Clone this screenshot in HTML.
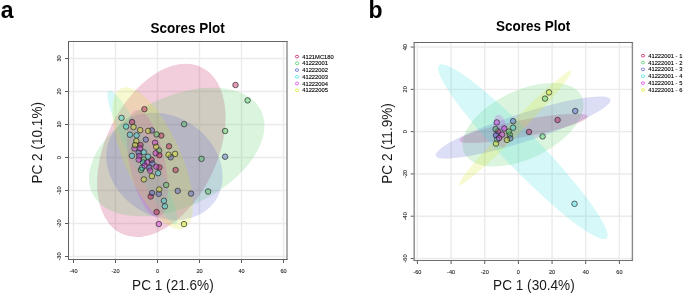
<!DOCTYPE html>
<html><head><meta charset="utf-8"><style>
html,body{margin:0;padding:0;background:#fff;}
svg{display:block;will-change:transform;}
text{font-family:"Liberation Sans",sans-serif;}
.tk{font-size:5.6px;fill:#222;stroke:#222;stroke-width:0.1px;}
.lg{font-size:5.8px;fill:#000;stroke:#000;stroke-width:0.12px;}
.pl{font-size:23px;font-weight:bold;fill:#000;}
.tt{font-size:13.5px;font-weight:bold;fill:#000;}
.al{font-size:13.6px;fill:#1a1a1a;}
</style></head><body>
<svg width="685" height="294" viewBox="0 0 685 294">
<defs>
<clipPath id="ca"><rect x="69" y="42" width="218" height="217"/></clipPath>
<clipPath id="cb"><rect x="415" y="43" width="217" height="217"/></clipPath>
</defs>
<line x1="73.5" y1="42" x2="73.5" y2="259" stroke="#ebebeb" stroke-width="1.4"/>
<line x1="115.5" y1="42" x2="115.5" y2="259" stroke="#ebebeb" stroke-width="1.4"/>
<line x1="157.5" y1="42" x2="157.5" y2="259" stroke="#ebebeb" stroke-width="1.4"/>
<line x1="199.5" y1="42" x2="199.5" y2="259" stroke="#ebebeb" stroke-width="1.4"/>
<line x1="241.5" y1="42" x2="241.5" y2="259" stroke="#ebebeb" stroke-width="1.4"/>
<line x1="283.5" y1="42" x2="283.5" y2="259" stroke="#ebebeb" stroke-width="1.4"/>
<line x1="69" y1="256.5" x2="287" y2="256.5" stroke="#ebebeb" stroke-width="1.4"/>
<line x1="69" y1="223.5" x2="287" y2="223.5" stroke="#ebebeb" stroke-width="1.4"/>
<line x1="69" y1="190.5" x2="287" y2="190.5" stroke="#ebebeb" stroke-width="1.4"/>
<line x1="69" y1="157.5" x2="287" y2="157.5" stroke="#ebebeb" stroke-width="1.4"/>
<line x1="69" y1="124.5" x2="287" y2="124.5" stroke="#ebebeb" stroke-width="1.4"/>
<line x1="69" y1="91.5" x2="287" y2="91.5" stroke="#ebebeb" stroke-width="1.4"/>
<line x1="69" y1="58.5" x2="287" y2="58.5" stroke="#ebebeb" stroke-width="1.4"/>
<line x1="417.4" y1="43" x2="417.4" y2="260" stroke="#ebebeb" stroke-width="1.4"/>
<line x1="451.06666666666666" y1="43" x2="451.06666666666666" y2="260" stroke="#ebebeb" stroke-width="1.4"/>
<line x1="484.7333333333333" y1="43" x2="484.7333333333333" y2="260" stroke="#ebebeb" stroke-width="1.4"/>
<line x1="518.4" y1="43" x2="518.4" y2="260" stroke="#ebebeb" stroke-width="1.4"/>
<line x1="552.0666666666666" y1="43" x2="552.0666666666666" y2="260" stroke="#ebebeb" stroke-width="1.4"/>
<line x1="585.7333333333333" y1="43" x2="585.7333333333333" y2="260" stroke="#ebebeb" stroke-width="1.4"/>
<line x1="619.4" y1="43" x2="619.4" y2="260" stroke="#ebebeb" stroke-width="1.4"/>
<line x1="415" y1="258.52" x2="632" y2="258.52" stroke="#ebebeb" stroke-width="1.4"/>
<line x1="415" y1="216.23000000000002" x2="632" y2="216.23000000000002" stroke="#ebebeb" stroke-width="1.4"/>
<line x1="415" y1="173.94" x2="632" y2="173.94" stroke="#ebebeb" stroke-width="1.4"/>
<line x1="415" y1="131.65" x2="632" y2="131.65" stroke="#ebebeb" stroke-width="1.4"/>
<line x1="415" y1="89.36000000000001" x2="632" y2="89.36000000000001" stroke="#ebebeb" stroke-width="1.4"/>
<line x1="415" y1="47.07000000000001" x2="632" y2="47.07000000000001" stroke="#ebebeb" stroke-width="1.4"/>
<g><g clip-path="url(#ca)"><ellipse cx="161.33" cy="150.35" rx="92.26" ry="55.75" transform="rotate(115.73 161.33 150.35)" fill="rgb(190,5,80)" fill-opacity="0.2"/>
<ellipse cx="176.70" cy="152.00" rx="94.00" ry="54.80" transform="rotate(-26.20 176.70 152.00)" fill="rgb(70,200,90)" fill-opacity="0.2"/>
<ellipse cx="164.40" cy="166.40" rx="61.40" ry="50.00" transform="rotate(33.70 164.40 166.40)" fill="rgb(80,90,205)" fill-opacity="0.2"/>
<ellipse cx="142.50" cy="157.49" rx="74.64" ry="10.95" transform="rotate(63.22 142.50 157.49)" fill="rgb(50,220,225)" fill-opacity="0.2"/>
<ellipse cx="147.32" cy="163.45" rx="54.56" ry="17.77" transform="rotate(78.26 147.32 163.45)" fill="rgb(215,40,225)" fill-opacity="0.2"/>
<ellipse cx="152.68" cy="158.23" rx="76.59" ry="28.10" transform="rotate(66.03 152.68 158.23)" fill="rgb(215,228,25)" fill-opacity="0.2"/></g></g>
<g><g clip-path="url(#cb)"><ellipse cx="523.60" cy="128.40" rx="65.20" ry="8.50" transform="rotate(-10.60 523.60 128.40)" fill="rgb(190,5,80)" fill-opacity="0.2"/>
<ellipse cx="523.00" cy="124.70" rx="65.20" ry="34.10" transform="rotate(-25.80 523.00 124.70)" fill="rgb(70,200,90)" fill-opacity="0.2"/>
<ellipse cx="523.10" cy="127.60" rx="91.70" ry="14.00" transform="rotate(-17.80 523.10 127.60)" fill="rgb(80,90,205)" fill-opacity="0.2"/>
<ellipse cx="522.80" cy="151.70" rx="120.40" ry="18.00" transform="rotate(45.90 522.80 151.70)" fill="rgb(50,220,225)" fill-opacity="0.2"/>
<ellipse cx="500.40" cy="131.10" rx="16.40" ry="7.00" transform="rotate(82.00 500.40 131.10)" fill="rgb(215,40,225)" fill-opacity="0.2"/>
<ellipse cx="515.30" cy="127.90" rx="79.70" ry="6.50" transform="rotate(-45.50 515.30 127.90)" fill="rgb(215,228,25)" fill-opacity="0.2"/></g></g>
<g clip-path="url(#ca)"><circle cx="144.4" cy="109.2" r="2.75" fill="rgb(190,5,80)" fill-opacity="0.4" stroke="#2a2a2a" stroke-width="0.7"/>
<circle cx="132.1" cy="122.1" r="2.75" fill="rgb(190,5,80)" fill-opacity="0.4" stroke="#2a2a2a" stroke-width="0.7"/>
<circle cx="140.5" cy="145.0" r="2.75" fill="rgb(190,5,80)" fill-opacity="0.4" stroke="#2a2a2a" stroke-width="0.7"/>
<circle cx="161.3" cy="135.6" r="2.75" fill="rgb(190,5,80)" fill-opacity="0.4" stroke="#2a2a2a" stroke-width="0.7"/>
<circle cx="169.0" cy="146.3" r="2.75" fill="rgb(190,5,80)" fill-opacity="0.4" stroke="#2a2a2a" stroke-width="0.7"/>
<circle cx="159.3" cy="155.2" r="2.75" fill="rgb(190,5,80)" fill-opacity="0.4" stroke="#2a2a2a" stroke-width="0.7"/>
<circle cx="151.6" cy="159.8" r="2.75" fill="rgb(190,5,80)" fill-opacity="0.4" stroke="#2a2a2a" stroke-width="0.7"/>
<circle cx="159.4" cy="167.4" r="2.75" fill="rgb(190,5,80)" fill-opacity="0.4" stroke="#2a2a2a" stroke-width="0.7"/>
<circle cx="175.6" cy="170.0" r="2.75" fill="rgb(190,5,80)" fill-opacity="0.4" stroke="#2a2a2a" stroke-width="0.7"/>
<circle cx="150.7" cy="196.5" r="2.75" fill="rgb(190,5,80)" fill-opacity="0.4" stroke="#2a2a2a" stroke-width="0.7"/>
<circle cx="156.6" cy="212.1" r="2.75" fill="rgb(190,5,80)" fill-opacity="0.4" stroke="#2a2a2a" stroke-width="0.7"/>
<circle cx="235.5" cy="85.0" r="2.75" fill="rgb(190,5,80)" fill-opacity="0.4" stroke="#2a2a2a" stroke-width="0.7"/>
<circle cx="156.6" cy="134.4" r="2.75" fill="rgb(70,200,90)" fill-opacity="0.4" stroke="#2a2a2a" stroke-width="0.7"/>
<circle cx="184.1" cy="124.2" r="2.75" fill="rgb(70,200,90)" fill-opacity="0.4" stroke="#2a2a2a" stroke-width="0.7"/>
<circle cx="159.0" cy="150.5" r="2.75" fill="rgb(70,200,90)" fill-opacity="0.4" stroke="#2a2a2a" stroke-width="0.7"/>
<circle cx="143.8" cy="159.5" r="2.75" fill="rgb(70,200,90)" fill-opacity="0.4" stroke="#2a2a2a" stroke-width="0.7"/>
<circle cx="141.0" cy="170.0" r="2.75" fill="rgb(70,200,90)" fill-opacity="0.4" stroke="#2a2a2a" stroke-width="0.7"/>
<circle cx="166.2" cy="185.0" r="2.75" fill="rgb(70,200,90)" fill-opacity="0.4" stroke="#2a2a2a" stroke-width="0.7"/>
<circle cx="225.1" cy="131.0" r="2.75" fill="rgb(70,200,90)" fill-opacity="0.4" stroke="#2a2a2a" stroke-width="0.7"/>
<circle cx="247.6" cy="100.4" r="2.75" fill="rgb(70,200,90)" fill-opacity="0.4" stroke="#2a2a2a" stroke-width="0.7"/>
<circle cx="201.5" cy="158.8" r="2.75" fill="rgb(70,200,90)" fill-opacity="0.4" stroke="#2a2a2a" stroke-width="0.7"/>
<circle cx="208.1" cy="191.5" r="2.75" fill="rgb(70,200,90)" fill-opacity="0.4" stroke="#2a2a2a" stroke-width="0.7"/>
<circle cx="151.8" cy="130.4" r="2.75" fill="rgb(80,90,205)" fill-opacity="0.4" stroke="#2a2a2a" stroke-width="0.7"/>
<circle cx="145.8" cy="139.6" r="2.75" fill="rgb(80,90,205)" fill-opacity="0.4" stroke="#2a2a2a" stroke-width="0.7"/>
<circle cx="138.7" cy="152.6" r="2.75" fill="rgb(80,90,205)" fill-opacity="0.4" stroke="#2a2a2a" stroke-width="0.7"/>
<circle cx="152.4" cy="163.6" r="2.75" fill="rgb(80,90,205)" fill-opacity="0.4" stroke="#2a2a2a" stroke-width="0.7"/>
<circle cx="149.2" cy="167.7" r="2.75" fill="rgb(80,90,205)" fill-opacity="0.4" stroke="#2a2a2a" stroke-width="0.7"/>
<circle cx="170.6" cy="157.3" r="2.75" fill="rgb(80,90,205)" fill-opacity="0.4" stroke="#2a2a2a" stroke-width="0.7"/>
<circle cx="152.0" cy="193.0" r="2.75" fill="rgb(80,90,205)" fill-opacity="0.4" stroke="#2a2a2a" stroke-width="0.7"/>
<circle cx="158.8" cy="193.8" r="2.75" fill="rgb(80,90,205)" fill-opacity="0.4" stroke="#2a2a2a" stroke-width="0.7"/>
<circle cx="177.7" cy="190.9" r="2.75" fill="rgb(80,90,205)" fill-opacity="0.4" stroke="#2a2a2a" stroke-width="0.7"/>
<circle cx="191.0" cy="193.6" r="2.75" fill="rgb(80,90,205)" fill-opacity="0.4" stroke="#2a2a2a" stroke-width="0.7"/>
<circle cx="225.1" cy="156.7" r="2.75" fill="rgb(80,90,205)" fill-opacity="0.4" stroke="#2a2a2a" stroke-width="0.7"/>
<circle cx="121.5" cy="117.9" r="2.75" fill="rgb(50,220,225)" fill-opacity="0.4" stroke="#2a2a2a" stroke-width="0.7"/>
<circle cx="126.1" cy="126.6" r="2.75" fill="rgb(50,220,225)" fill-opacity="0.4" stroke="#2a2a2a" stroke-width="0.7"/>
<circle cx="129.9" cy="134.7" r="2.75" fill="rgb(50,220,225)" fill-opacity="0.4" stroke="#2a2a2a" stroke-width="0.7"/>
<circle cx="136.6" cy="135.4" r="2.75" fill="rgb(50,220,225)" fill-opacity="0.4" stroke="#2a2a2a" stroke-width="0.7"/>
<circle cx="131.9" cy="155.8" r="2.75" fill="rgb(50,220,225)" fill-opacity="0.4" stroke="#2a2a2a" stroke-width="0.7"/>
<circle cx="143.8" cy="152.2" r="2.75" fill="rgb(50,220,225)" fill-opacity="0.4" stroke="#2a2a2a" stroke-width="0.7"/>
<circle cx="148.1" cy="156.7" r="2.75" fill="rgb(50,220,225)" fill-opacity="0.4" stroke="#2a2a2a" stroke-width="0.7"/>
<circle cx="143.1" cy="162.5" r="2.75" fill="rgb(50,220,225)" fill-opacity="0.4" stroke="#2a2a2a" stroke-width="0.7"/>
<circle cx="142.1" cy="167.8" r="2.75" fill="rgb(50,220,225)" fill-opacity="0.4" stroke="#2a2a2a" stroke-width="0.7"/>
<circle cx="158.1" cy="173.2" r="2.75" fill="rgb(50,220,225)" fill-opacity="0.4" stroke="#2a2a2a" stroke-width="0.7"/>
<circle cx="163.9" cy="200.8" r="2.75" fill="rgb(50,220,225)" fill-opacity="0.4" stroke="#2a2a2a" stroke-width="0.7"/>
<circle cx="164.9" cy="206.3" r="2.75" fill="rgb(50,220,225)" fill-opacity="0.4" stroke="#2a2a2a" stroke-width="0.7"/>
<circle cx="134.5" cy="148.6" r="2.75" fill="rgb(215,40,225)" fill-opacity="0.4" stroke="#2a2a2a" stroke-width="0.7"/>
<circle cx="140.2" cy="148.3" r="2.75" fill="rgb(215,40,225)" fill-opacity="0.4" stroke="#2a2a2a" stroke-width="0.7"/>
<circle cx="155.0" cy="142.8" r="2.75" fill="rgb(215,40,225)" fill-opacity="0.4" stroke="#2a2a2a" stroke-width="0.7"/>
<circle cx="155.7" cy="153.2" r="2.75" fill="rgb(215,40,225)" fill-opacity="0.4" stroke="#2a2a2a" stroke-width="0.7"/>
<circle cx="139.3" cy="156.1" r="2.75" fill="rgb(215,40,225)" fill-opacity="0.4" stroke="#2a2a2a" stroke-width="0.7"/>
<circle cx="138.7" cy="159.6" r="2.75" fill="rgb(215,40,225)" fill-opacity="0.4" stroke="#2a2a2a" stroke-width="0.7"/>
<circle cx="147.2" cy="162.4" r="2.75" fill="rgb(215,40,225)" fill-opacity="0.4" stroke="#2a2a2a" stroke-width="0.7"/>
<circle cx="144.6" cy="165.6" r="2.75" fill="rgb(215,40,225)" fill-opacity="0.4" stroke="#2a2a2a" stroke-width="0.7"/>
<circle cx="156.3" cy="166.7" r="2.75" fill="rgb(215,40,225)" fill-opacity="0.4" stroke="#2a2a2a" stroke-width="0.7"/>
<circle cx="150.2" cy="170.6" r="2.75" fill="rgb(215,40,225)" fill-opacity="0.4" stroke="#2a2a2a" stroke-width="0.7"/>
<circle cx="158.8" cy="224.0" r="2.75" fill="rgb(215,40,225)" fill-opacity="0.4" stroke="#2a2a2a" stroke-width="0.7"/>
<circle cx="133.5" cy="127.0" r="2.75" fill="rgb(215,228,25)" fill-opacity="0.4" stroke="#2a2a2a" stroke-width="0.7"/>
<circle cx="140.2" cy="130.1" r="2.75" fill="rgb(215,228,25)" fill-opacity="0.4" stroke="#2a2a2a" stroke-width="0.7"/>
<circle cx="148.2" cy="130.9" r="2.75" fill="rgb(215,228,25)" fill-opacity="0.4" stroke="#2a2a2a" stroke-width="0.7"/>
<circle cx="136.3" cy="141.1" r="2.75" fill="rgb(215,228,25)" fill-opacity="0.4" stroke="#2a2a2a" stroke-width="0.7"/>
<circle cx="135.1" cy="145.0" r="2.75" fill="rgb(215,228,25)" fill-opacity="0.4" stroke="#2a2a2a" stroke-width="0.7"/>
<circle cx="156.2" cy="146.8" r="2.75" fill="rgb(215,228,25)" fill-opacity="0.4" stroke="#2a2a2a" stroke-width="0.7"/>
<circle cx="168.5" cy="154.7" r="2.75" fill="rgb(215,228,25)" fill-opacity="0.4" stroke="#2a2a2a" stroke-width="0.7"/>
<circle cx="175.1" cy="153.9" r="2.75" fill="rgb(215,228,25)" fill-opacity="0.4" stroke="#2a2a2a" stroke-width="0.7"/>
<circle cx="151.9" cy="176.2" r="2.75" fill="rgb(215,228,25)" fill-opacity="0.4" stroke="#2a2a2a" stroke-width="0.7"/>
<circle cx="143.9" cy="179.4" r="2.75" fill="rgb(215,228,25)" fill-opacity="0.4" stroke="#2a2a2a" stroke-width="0.7"/>
<circle cx="159.2" cy="189.5" r="2.75" fill="rgb(215,228,25)" fill-opacity="0.4" stroke="#2a2a2a" stroke-width="0.7"/>
<circle cx="184.0" cy="224.1" r="2.75" fill="rgb(215,228,25)" fill-opacity="0.4" stroke="#2a2a2a" stroke-width="0.7"/></g>
<g clip-path="url(#cb)"><circle cx="498.0" cy="131.3" r="2.75" fill="rgb(190,5,80)" fill-opacity="0.4" stroke="#2a2a2a" stroke-width="0.7"/>
<circle cx="529.0" cy="131.9" r="2.75" fill="rgb(190,5,80)" fill-opacity="0.4" stroke="#2a2a2a" stroke-width="0.7"/>
<circle cx="557.6" cy="120.0" r="2.75" fill="rgb(190,5,80)" fill-opacity="0.4" stroke="#2a2a2a" stroke-width="0.7"/>
<circle cx="495.6" cy="129.1" r="2.75" fill="rgb(70,200,90)" fill-opacity="0.4" stroke="#2a2a2a" stroke-width="0.7"/>
<circle cx="509.8" cy="134.6" r="2.75" fill="rgb(70,200,90)" fill-opacity="0.4" stroke="#2a2a2a" stroke-width="0.7"/>
<circle cx="545.0" cy="98.6" r="2.75" fill="rgb(70,200,90)" fill-opacity="0.4" stroke="#2a2a2a" stroke-width="0.7"/>
<circle cx="542.6" cy="136.4" r="2.75" fill="rgb(70,200,90)" fill-opacity="0.4" stroke="#2a2a2a" stroke-width="0.7"/>
<circle cx="508.8" cy="131.6" r="2.75" fill="rgb(70,200,90)" fill-opacity="0.4" stroke="#2a2a2a" stroke-width="0.7"/>
<circle cx="513.1" cy="121.2" r="2.75" fill="rgb(80,90,205)" fill-opacity="0.4" stroke="#2a2a2a" stroke-width="0.7"/>
<circle cx="496.0" cy="135.3" r="2.75" fill="rgb(80,90,205)" fill-opacity="0.4" stroke="#2a2a2a" stroke-width="0.7"/>
<circle cx="575.2" cy="111.0" r="2.75" fill="rgb(80,90,205)" fill-opacity="0.4" stroke="#2a2a2a" stroke-width="0.7"/>
<circle cx="510.3" cy="138.3" r="2.75" fill="rgb(80,90,205)" fill-opacity="0.4" stroke="#2a2a2a" stroke-width="0.7"/>
<circle cx="513.1" cy="127.7" r="2.75" fill="rgb(50,220,225)" fill-opacity="0.4" stroke="#2a2a2a" stroke-width="0.7"/>
<circle cx="574.5" cy="203.8" r="2.75" fill="rgb(50,220,225)" fill-opacity="0.4" stroke="#2a2a2a" stroke-width="0.7"/>
<circle cx="497.2" cy="139.5" r="2.75" fill="rgb(50,220,225)" fill-opacity="0.4" stroke="#2a2a2a" stroke-width="0.7"/>
<circle cx="496.8" cy="122.4" r="2.75" fill="rgb(215,40,225)" fill-opacity="0.4" stroke="#2a2a2a" stroke-width="0.7"/>
<circle cx="504.3" cy="128.5" r="2.75" fill="rgb(215,40,225)" fill-opacity="0.4" stroke="#2a2a2a" stroke-width="0.7"/>
<circle cx="502.1" cy="134.6" r="2.75" fill="rgb(215,40,225)" fill-opacity="0.4" stroke="#2a2a2a" stroke-width="0.7"/>
<circle cx="499.0" cy="138.0" r="2.75" fill="rgb(215,40,225)" fill-opacity="0.4" stroke="#2a2a2a" stroke-width="0.7"/>
<circle cx="549.0" cy="92.4" r="2.75" fill="rgb(215,228,25)" fill-opacity="0.4" stroke="#2a2a2a" stroke-width="0.7"/>
<circle cx="507.0" cy="139.9" r="2.75" fill="rgb(215,228,25)" fill-opacity="0.4" stroke="#2a2a2a" stroke-width="0.7"/>
<circle cx="496.0" cy="143.6" r="2.75" fill="rgb(215,228,25)" fill-opacity="0.4" stroke="#2a2a2a" stroke-width="0.7"/></g>
<line x1="68.5" y1="41.0" x2="68.5" y2="260.0" stroke="#5e5e5e" stroke-width="1"/>
<line x1="287.0" y1="41.0" x2="287.0" y2="260.0" stroke="#9a9a9a" stroke-width="1.6"/>
<line x1="68.0" y1="41.5" x2="287.5" y2="41.5" stroke="#666" stroke-width="1"/>
<line x1="68.0" y1="259.5" x2="287.5" y2="259.5" stroke="#606060" stroke-width="1"/>
<line x1="73.5" y1="260.0" x2="73.5" y2="263.0" stroke="#5a5a5a" stroke-width="1"/>
<text x="0" y="0" class="tk" text-anchor="middle" transform="translate(73.5 273) scale(1 1.12)">-40</text>
<line x1="115.5" y1="260.0" x2="115.5" y2="263.0" stroke="#5a5a5a" stroke-width="1"/>
<text x="0" y="0" class="tk" text-anchor="middle" transform="translate(115.5 273) scale(1 1.12)">-20</text>
<line x1="157.5" y1="260.0" x2="157.5" y2="263.0" stroke="#5a5a5a" stroke-width="1"/>
<text x="0" y="0" class="tk" text-anchor="middle" transform="translate(157.5 273) scale(1 1.12)">0</text>
<line x1="199.5" y1="260.0" x2="199.5" y2="263.0" stroke="#5a5a5a" stroke-width="1"/>
<text x="0" y="0" class="tk" text-anchor="middle" transform="translate(199.5 273) scale(1 1.12)">20</text>
<line x1="241.5" y1="260.0" x2="241.5" y2="263.0" stroke="#5a5a5a" stroke-width="1"/>
<text x="0" y="0" class="tk" text-anchor="middle" transform="translate(241.5 273) scale(1 1.12)">40</text>
<line x1="283.5" y1="260.0" x2="283.5" y2="263.0" stroke="#5a5a5a" stroke-width="1"/>
<text x="0" y="0" class="tk" text-anchor="middle" transform="translate(283.5 273) scale(1 1.12)">60</text>
<line x1="65.0" y1="256.5" x2="68.0" y2="256.5" stroke="#5a5a5a" stroke-width="1"/>
<text x="0" y="0" class="tk" text-anchor="middle" transform="translate(60.8 256.5) rotate(-90) scale(1 1.12)">-30</text>
<line x1="65.0" y1="223.5" x2="68.0" y2="223.5" stroke="#5a5a5a" stroke-width="1"/>
<text x="0" y="0" class="tk" text-anchor="middle" transform="translate(60.8 223.5) rotate(-90) scale(1 1.12)">-20</text>
<line x1="65.0" y1="190.5" x2="68.0" y2="190.5" stroke="#5a5a5a" stroke-width="1"/>
<text x="0" y="0" class="tk" text-anchor="middle" transform="translate(60.8 190.5) rotate(-90) scale(1 1.12)">-10</text>
<line x1="65.0" y1="157.5" x2="68.0" y2="157.5" stroke="#5a5a5a" stroke-width="1"/>
<text x="0" y="0" class="tk" text-anchor="middle" transform="translate(60.8 157.5) rotate(-90) scale(1 1.12)">0</text>
<line x1="65.0" y1="124.5" x2="68.0" y2="124.5" stroke="#5a5a5a" stroke-width="1"/>
<text x="0" y="0" class="tk" text-anchor="middle" transform="translate(60.8 124.5) rotate(-90) scale(1 1.12)">10</text>
<line x1="65.0" y1="91.5" x2="68.0" y2="91.5" stroke="#5a5a5a" stroke-width="1"/>
<text x="0" y="0" class="tk" text-anchor="middle" transform="translate(60.8 91.5) rotate(-90) scale(1 1.12)">20</text>
<line x1="65.0" y1="58.5" x2="68.0" y2="58.5" stroke="#5a5a5a" stroke-width="1"/>
<text x="0" y="0" class="tk" text-anchor="middle" transform="translate(60.8 58.5) rotate(-90) scale(1 1.12)">30</text>
<line x1="414.2" y1="42.0" x2="414.2" y2="261.0" stroke="#8a8a8a" stroke-width="1.4"/>
<line x1="632.4" y1="42.0" x2="632.4" y2="261.0" stroke="#888" stroke-width="1.4"/>
<line x1="413.7" y1="42.5" x2="632.9" y2="42.5" stroke="#666" stroke-width="1"/>
<line x1="413.7" y1="260.5" x2="632.9" y2="260.5" stroke="#707070" stroke-width="1"/>
<line x1="417.4" y1="261.0" x2="417.4" y2="264.0" stroke="#5a5a5a" stroke-width="1"/>
<text x="0" y="0" class="tk" text-anchor="middle" transform="translate(417.4 274) scale(1 1.12)">-60</text>
<line x1="451.06666666666666" y1="261.0" x2="451.06666666666666" y2="264.0" stroke="#5a5a5a" stroke-width="1"/>
<text x="0" y="0" class="tk" text-anchor="middle" transform="translate(451.06666666666666 274) scale(1 1.12)">-40</text>
<line x1="484.7333333333333" y1="261.0" x2="484.7333333333333" y2="264.0" stroke="#5a5a5a" stroke-width="1"/>
<text x="0" y="0" class="tk" text-anchor="middle" transform="translate(484.7333333333333 274) scale(1 1.12)">-20</text>
<line x1="518.4" y1="261.0" x2="518.4" y2="264.0" stroke="#5a5a5a" stroke-width="1"/>
<text x="0" y="0" class="tk" text-anchor="middle" transform="translate(518.4 274) scale(1 1.12)">0</text>
<line x1="552.0666666666666" y1="261.0" x2="552.0666666666666" y2="264.0" stroke="#5a5a5a" stroke-width="1"/>
<text x="0" y="0" class="tk" text-anchor="middle" transform="translate(552.0666666666666 274) scale(1 1.12)">20</text>
<line x1="585.7333333333333" y1="261.0" x2="585.7333333333333" y2="264.0" stroke="#5a5a5a" stroke-width="1"/>
<text x="0" y="0" class="tk" text-anchor="middle" transform="translate(585.7333333333333 274) scale(1 1.12)">40</text>
<line x1="619.4" y1="261.0" x2="619.4" y2="264.0" stroke="#5a5a5a" stroke-width="1"/>
<text x="0" y="0" class="tk" text-anchor="middle" transform="translate(619.4 274) scale(1 1.12)">60</text>
<line x1="410.7" y1="258.52" x2="413.7" y2="258.52" stroke="#5a5a5a" stroke-width="1"/>
<text x="0" y="0" class="tk" text-anchor="middle" transform="translate(406.8 258.52) rotate(-90) scale(1 1.12)">-60</text>
<line x1="410.7" y1="216.23000000000002" x2="413.7" y2="216.23000000000002" stroke="#5a5a5a" stroke-width="1"/>
<text x="0" y="0" class="tk" text-anchor="middle" transform="translate(406.8 216.23000000000002) rotate(-90) scale(1 1.12)">-40</text>
<line x1="410.7" y1="173.94" x2="413.7" y2="173.94" stroke="#5a5a5a" stroke-width="1"/>
<text x="0" y="0" class="tk" text-anchor="middle" transform="translate(406.8 173.94) rotate(-90) scale(1 1.12)">-20</text>
<line x1="410.7" y1="131.65" x2="413.7" y2="131.65" stroke="#5a5a5a" stroke-width="1"/>
<text x="0" y="0" class="tk" text-anchor="middle" transform="translate(406.8 131.65) rotate(-90) scale(1 1.12)">0</text>
<line x1="410.7" y1="89.36000000000001" x2="413.7" y2="89.36000000000001" stroke="#5a5a5a" stroke-width="1"/>
<text x="0" y="0" class="tk" text-anchor="middle" transform="translate(406.8 89.36000000000001) rotate(-90) scale(1 1.12)">20</text>
<line x1="410.7" y1="47.07000000000001" x2="413.7" y2="47.07000000000001" stroke="#5a5a5a" stroke-width="1"/>
<text x="0" y="0" class="tk" text-anchor="middle" transform="translate(406.8 47.07000000000001) rotate(-90) scale(1 1.12)">40</text>
<ellipse cx="297.0" cy="56.6" rx="1.65" ry="1.35" fill="none" stroke="rgb(190,5,80)" stroke-width="0.7"/>
<text x="302.2" y="58.6" class="lg">4121MC180</text>
<ellipse cx="297.0" cy="63.34" rx="1.65" ry="1.35" fill="none" stroke="rgb(70,200,90)" stroke-width="0.7"/>
<text x="302.2" y="65.34" class="lg">41222001</text>
<ellipse cx="297.0" cy="70.08" rx="1.65" ry="1.35" fill="none" stroke="rgb(80,90,205)" stroke-width="0.7"/>
<text x="302.2" y="72.08" class="lg">41222002</text>
<ellipse cx="297.0" cy="76.82" rx="1.65" ry="1.35" fill="none" stroke="rgb(50,220,225)" stroke-width="0.7"/>
<text x="302.2" y="78.82" class="lg">41222003</text>
<ellipse cx="297.0" cy="83.56" rx="1.65" ry="1.35" fill="none" stroke="rgb(215,40,225)" stroke-width="0.7"/>
<text x="302.2" y="85.56" class="lg">41222004</text>
<ellipse cx="297.0" cy="90.30000000000001" rx="1.65" ry="1.35" fill="none" stroke="rgb(215,228,25)" stroke-width="0.7"/>
<text x="302.2" y="92.30000000000001" class="lg">41222005</text>
<ellipse cx="643.0" cy="55.7" rx="1.65" ry="1.35" fill="none" stroke="rgb(190,5,80)" stroke-width="0.7"/>
<text x="648.2" y="57.7" class="lg">41222001 - 1</text>
<ellipse cx="643.0" cy="62.550000000000004" rx="1.65" ry="1.35" fill="none" stroke="rgb(70,200,90)" stroke-width="0.7"/>
<text x="648.2" y="64.55000000000001" class="lg">41222001 - 2</text>
<ellipse cx="643.0" cy="69.4" rx="1.65" ry="1.35" fill="none" stroke="rgb(80,90,205)" stroke-width="0.7"/>
<text x="648.2" y="71.4" class="lg">41222001 - 3</text>
<ellipse cx="643.0" cy="76.25" rx="1.65" ry="1.35" fill="none" stroke="rgb(50,220,225)" stroke-width="0.7"/>
<text x="648.2" y="78.25" class="lg">41222001 - 4</text>
<ellipse cx="643.0" cy="83.1" rx="1.65" ry="1.35" fill="none" stroke="rgb(215,40,225)" stroke-width="0.7"/>
<text x="648.2" y="85.1" class="lg">41222001 - 5</text>
<ellipse cx="643.0" cy="89.95" rx="1.65" ry="1.35" fill="none" stroke="rgb(215,228,25)" stroke-width="0.7"/>
<text x="648.2" y="91.95" class="lg">41222001 - 6</text>
<text x="0" y="0" class="pl" text-anchor="start" transform="translate(0.7 18)">a</text>
<text x="0" y="0" class="pl" text-anchor="start" transform="translate(368.6 18)">b</text>
<text x="0" y="0" class="tt" text-anchor="middle" transform="translate(187.7 33.0) scale(1 1.03)">Scores Plot</text>
<text x="0" y="0" class="tt" text-anchor="middle" transform="translate(533.2 31.0) scale(1 1.03)">Scores Plot</text>
<text x="0" y="0" class="al" text-anchor="middle" transform="translate(172.9 290.0) scale(1 1.05)">PC 1 (21.6%)</text>
<text x="0" y="0" class="al" text-anchor="middle" transform="translate(533.9 290.0) scale(1 1.05)">PC 1 (30.4%)</text>
<text x="0" y="0" class="al" text-anchor="middle" transform="translate(41.7 142.8) rotate(-90) scale(1 1.05)">PC 2 (10.1%)</text>
<text x="0" y="0" class="al" text-anchor="middle" transform="translate(391.6 143.45) rotate(-90) scale(1 1.05)">PC 2 (11.9%)</text>
</svg>
</body></html>
